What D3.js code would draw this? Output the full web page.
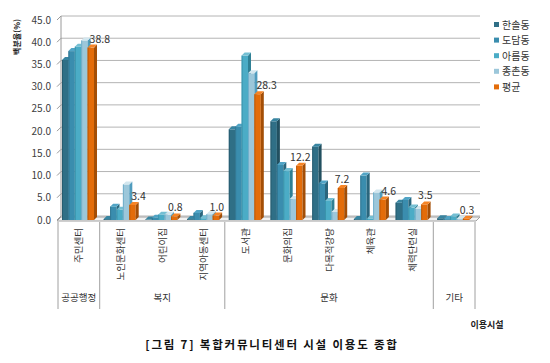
<!DOCTYPE html>
<html><head><meta charset="utf-8">
<script src="https://cdn.jsdelivr.net/npm/d3@7"></script>
<style>
html,body{margin:0;padding:0;background:#fff;}
text{font-family:"Noto Sans CJK KR","Noto Sans",sans-serif;}
</style></head>
<body>
<svg id="c" width="550" height="363"></svg>
<script>
const categories = ["주민센터","노인문화센터","어린이집","지역아동센터","도서관","문화의집","다목적강당","체육관","체력단련실",""];
const groups = [
  {name:"공공행정", start:0, end:1},
  {name:"복지", start:1, end:4},
  {name:"문화", start:4, end:9},
  {name:"기타", start:9, end:10}
];
const seriesNames = ["한솔동","도담동","아름동","종촌동","평균"];
const hansol = [36.0, 0.2, 0.1, 0.2, 20.4, 22.2, 16.5, 0.2, 3.9, 0.4];
const dodam  = [38.0, 3.0, 0.5, 1.6, 21.0, 12.4, 8.2, 10.0, 4.5, 0.2];
const areum  = [39.0, 2.3, 1.2, 0.4, 37.0, 11.0, 4.3, 0.3, 2.8, 0.8];
const jongchon = [40.4, 8.0, 1.2, 1.3, 33.0, 4.7, 1.8, 6.2, 2.5, 0.2];
const average = [38.8, 3.4, 0.8, 1.0, 28.3, 12.2, 7.2, 4.6, 3.5, 0.3];
const yTicks = [0,5,10,15,20,25,30,35,40,45];
const colors = ["#2F6F86","#3A8DAE","#4BACC6","#9CC7DA","#E36C09"];
const seriesData = [hansol, dodam, areum, jongchon, average];

const svg = d3.select("#c");
const dx = 4, dy = -4;
const y = d3.scaleLinear().domain([0,45]).range([220,20]);
const x = d3.scaleBand().domain(d3.range(categories.length)).range([58,475]).padding(0);
const bw = 6.4, bd = 3;

const g = svg.append("g");
yTicks.forEach(t=>{
  g.append("line").attr("x1",57+dx).attr("x2",480).attr("y1",y(t)+dy).attr("y2",y(t)+dy)
    .attr("stroke","#b4b4b4").attr("stroke-width",1);
  g.append("line").attr("x1",57).attr("x2",57+dx).attr("y1",y(t)).attr("y2",y(t)+dy)
    .attr("stroke","#9a9a9a");
  g.append("text").attr("x",51).attr("y",y(t)+3.5).attr("text-anchor","end")
    .attr("font-size",10).attr("fill","#404040").text(t.toFixed(1));
});
g.append("line").attr("x1",57+dx).attr("x2",57+dx).attr("y1",y(45)+dy).attr("y2",y(0)+dy).attr("stroke","#9a9a9a");
g.append("path").attr("d",`M57,${y(0)+1} L${57+dx},${y(0)+dy+1} L480,${y(0)+dy+1} L476,${y(0)+1} Z`)
  .attr("fill","#f2f2f2").attr("stroke","#a0a0a0");

const bars = svg.append("g");
function shade(c,k){const h=d3.hsl(c);h.l=Math.max(0,Math.min(1,h.l*k));return h.toString();}
categories.forEach((cat,i)=>{
  seriesData.forEach((arr,s)=>{
    const v = arr[i];
    const x0 = x(i)+4+s*bw;
    const yt = y(v), yb = y(0);
    const c = colors[s];
    bars.append("rect").attr("x",x0).attr("y",yt).attr("width",bw).attr("height",yb-yt).attr("fill",c);
    bars.append("path").attr("d",`M${x0+bw},${yt} L${x0+bw+bd},${yt-bd} L${x0+bw+bd},${yb-bd} L${x0+bw},${yb} Z`).attr("fill",shade(c,0.72));
    bars.append("path").attr("d",`M${x0},${yt} L${x0+bd},${yt-bd} L${x0+bw+bd},${yt-bd} L${x0+bw},${yt} Z`).attr("fill",shade(c,1.2));
    bars.append("line").attr("x1",x0+0.5).attr("x2",x0+0.5).attr("y1",yt).attr("y2",yb).attr("stroke",shade(c,0.8)).attr("stroke-width",0.8);
  });
  const v = average[i];
  const xa = x(i)+4+4*bw;
  const shifted = jongchon[i]-v > 1;
  const lbl = svg.append("text").attr("y",y(v)-5).attr("font-size",10.5).attr("fill","#333").text(v.toFixed(1));
  if (shifted) lbl.attr("x",xa+2).attr("text-anchor","start");
  else lbl.attr("x",xa+bw/2+1).attr("text-anchor","middle");
});

const ax = svg.append("g");
categories.forEach((cat,i)=>{
  const cx = x(i)+x.bandwidth()/2;
  ax.append("text").attr("transform",`translate(${cx+3.5},228) rotate(-90)`)
    .attr("text-anchor","end").attr("font-size",9.5).attr("fill","#333").text(cat);
});
const bounds = [0,1,4,9,10];
bounds.forEach(b=>{
  const xx = b<categories.length ? x(b) : x(categories.length-1)+x.bandwidth();
  ax.append("line").attr("x1",xx).attr("x2",xx).attr("y1",222).attr("y2",309).attr("stroke","#a0a0a0");
});
groups.forEach(gp=>{
  const x1 = x(gp.start), x2 = gp.end<categories.length ? x(gp.end) : x(categories.length-1)+x.bandwidth();
  ax.append("text").attr("x",(x1+x2)/2).attr("y",301).attr("text-anchor","middle")
    .attr("font-size",9.5).attr("fill","#333").text(gp.name);
});

svg.append("text").attr("transform","translate(20,37) rotate(-90)").attr("text-anchor","middle")
  .attr("font-size",8).attr("font-weight","bold").attr("fill","#222").text("백분율(%)");
svg.append("text").attr("x",487).attr("y",328).attr("text-anchor","middle")
  .attr("font-size",9).attr("font-weight","bold").attr("fill","#222").text("이용시설");

const lg = svg.append("g");
seriesNames.forEach((n,i)=>{
  const yy = 25 + i*15.6;
  lg.append("rect").attr("x",494).attr("y",yy-3).attr("width",5).attr("height",5).attr("fill",colors[i]);
  lg.append("text").attr("x",502).attr("y",yy+3.5).attr("font-size",10).attr("fill","#333").text(n);
});

svg.append("text").attr("x",272).attr("y",349).attr("text-anchor","middle")
  .attr("font-size",11.5).attr("font-weight","bold").attr("letter-spacing",1.8).attr("fill","#111")
  .text("[그림 7] 복합커뮤니티센터 시설 이용도 종합");
</script>
</body></html>
